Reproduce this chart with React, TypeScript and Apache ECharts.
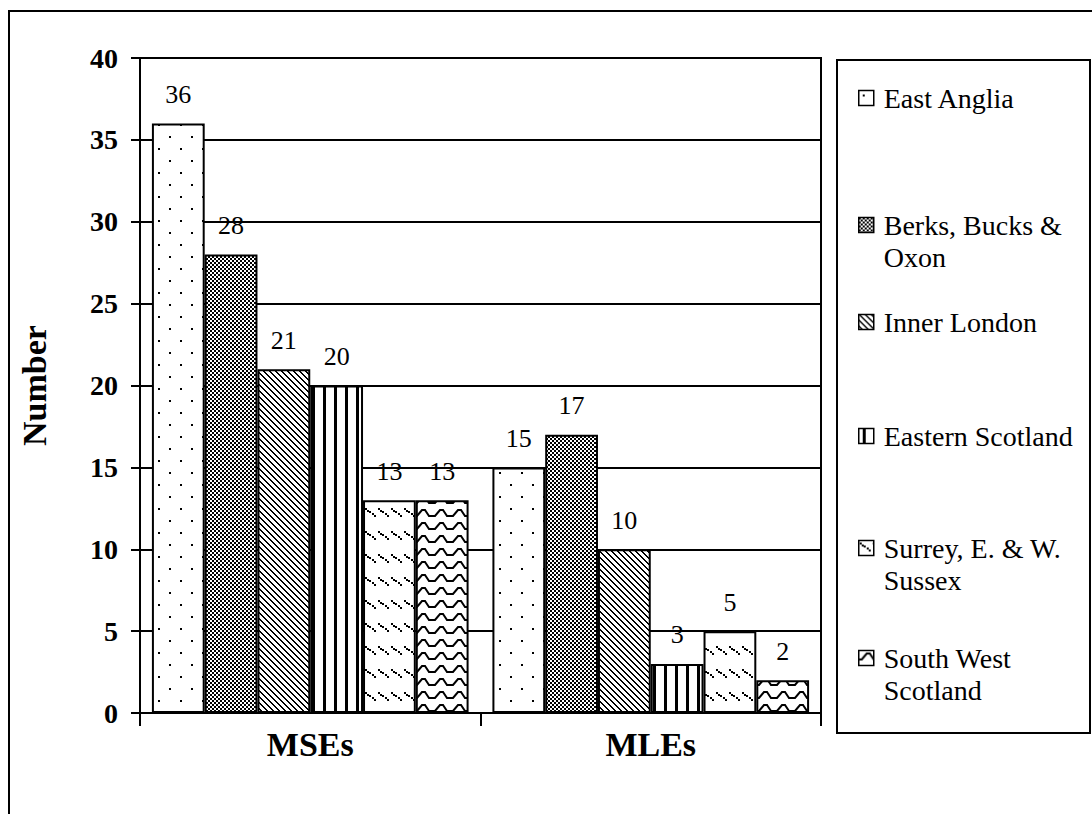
import React, { useEffect, useRef } from "react";
import * as echarts from "echarts";

// Categories along the x axis
const categories = ["MSEs", "MLEs"];

// Regions (one bar series each)
const regions = [
  "East Anglia",
  "Berks, Bucks & Oxon",
  "Inner London",
  "Eastern Scotland",
  "Surrey, E. & W. Sussex",
  "South West Scotland",
];

// Wrapped legend captions
const legendCaptions = [
  "East Anglia",
  "Berks, Bucks &\nOxon",
  "Inner London",
  "Eastern Scotland",
  "Surrey, E. & W.\nSussex",
  "South West\nScotland",
];

// Counts per category [MSEs, MLEs]
const eastAnglia = [36, 15];
const berksBucksOxon = [28, 17];
const innerLondon = [21, 10];
const easternScotland = [20, 3];
const surreySussex = [13, 5];
const southWestScotland = [13, 2];

const seriesValues = [
  eastAnglia,
  berksBucksOxon,
  innerLondon,
  easternScotland,
  surreySussex,
  southWestScotland,
];

// Y axis range
const yMin = 0;
const yMax = 40;
const yStep = 5;

const FONT = "Liberation Serif";

type Ctx = CanvasRenderingContext2D;

function tile(w: number, h: number, draw: (ctx: Ctx) => void) {
  const c = document.createElement("canvas");
  c.width = w;
  c.height = h;
  const ctx = c.getContext("2d") as Ctx;
  ctx.fillStyle = "#fff";
  ctx.fillRect(0, 0, w, h);
  ctx.fillStyle = "#000";
  ctx.strokeStyle = "#000";
  draw(ctx);
  return { image: c, repeat: "repeat", imageWidth: w, imageHeight: h };
}

function buildPatterns() {
  // sparse staggered dots
  const dots = tile(22, 24, (ctx) => {
    ctx.fillRect(4, 4, 2, 2);
    ctx.fillRect(15, 16, 2, 2);
  });
  // fine checkerboard
  const checker = tile(4, 4, (ctx) => {
    ctx.fillRect(0, 0, 2, 2);
    ctx.fillRect(2, 2, 2, 2);
  });
  // dense downward diagonals
  const diagonal = tile(6, 6, (ctx) => {
    for (let i = 0; i < 6; i++) {
      ctx.fillRect(i % 6, i, 1, 1);
      ctx.fillRect((i + 1) % 6, i, 1, 1);
    }
  });
  // bold vertical stripes
  const vertical = tile(11, 2, (ctx) => {
    ctx.fillRect(4, 0, 3, 2);
  });
  // rows of short dashed diagonals
  const dashed = tile(13, 23, (ctx) => {
    for (let j = 0; j < 5; j++) {
      ctx.fillRect(Math.round(1 + j * 2.2), Math.round(2 + j * 1.7), 2, 2);
    }
  });
  // zigzag waves
  const wave = tile(18, 13, (ctx) => {
    ctx.lineWidth = 2;
    ctx.beginPath();
    ctx.moveTo(-1, 9);
    ctx.lineTo(3, 9);
    ctx.lineTo(8, 3);
    ctx.lineTo(11, 3);
    ctx.lineTo(15, 9);
    ctx.lineTo(19, 9);
    ctx.stroke();
  });
  return [dots, checker, diagonal, vertical, dashed, wave];
}

// First-line vertical centres of the legend entries
const legendRowY = [98, 225, 322, 436, 548, 658];
const LH = 32;

export default function App() {
  const ref = useRef<HTMLDivElement>(null);

  useEffect(() => {
    if (!ref.current) return;
    const chart = echarts.init(ref.current, null, { renderer: "svg" });
    const patterns = buildPatterns();

    const series = regions.map((name, i) => ({
      name,
      type: "bar",
      data: seriesValues[i],
      barGap: "0%",
      barCategoryGap: "7%",
      itemStyle: {
        color: patterns[i],
        borderColor: "#000",
        borderWidth: 2,
      },
      label: {
        show: true,
        position: "top",
        distance: 16,
        fontFamily: FONT,
        fontSize: 26,
        color: "#000",
      },
      emphasis: { disabled: true },
    }));

    // One legend per entry so each can sit on its own row; wrapped captions get a
    // leading blank line so the marker lines up with the first line of text.
    const legends = regions.map((name, i) => {
      const twoLines = legendCaptions[i].includes("\n");
      const y = legendRowY[i];
      const caption = twoLines ? " \n" + legendCaptions[i] : legendCaptions[i];
      return {
        data: [name],
        orient: "vertical",
        left: 858,
        top: twoLines ? y - 1.5 * LH : y - LH / 2,
        padding: 0,
        itemWidth: 15,
        itemHeight: 15,
        itemGap: 0,
        icon: "rect",
        selectedMode: false,
        formatter: () => caption,
        itemStyle: { borderColor: "#000", borderWidth: 1.5 },
        textStyle: {
          fontFamily: FONT,
          fontSize: 28,
          color: "#000",
          lineHeight: LH,
          padding: [0, 0, 0, 5],
        },
      };
    });

    chart.setOption({
      animation: false,
      backgroundColor: "#fff",
      textStyle: { fontFamily: FONT },
      grid: {
        left: 140,
        right: 271,
        top: 58,
        bottom: 101,
        show: true,
        borderColor: "#000",
        borderWidth: 2,
        backgroundColor: "transparent",
      },
      legend: legends,
      xAxis: {
        type: "category",
        data: categories,
        axisLine: { show: true, lineStyle: { color: "#000", width: 2 } },
        axisTick: { show: true, length: 13, lineStyle: { color: "#000", width: 2 } },
        axisLabel: {
          margin: 14,
          fontFamily: FONT,
          fontSize: 34,
          fontWeight: "bold",
          color: "#000",
        },
      },
      yAxis: {
        type: "value",
        min: yMin,
        max: yMax,
        interval: yStep,
        name: "Number",
        nameLocation: "middle",
        nameGap: 89,
        nameTextStyle: {
          fontFamily: FONT,
          fontSize: 34,
          fontWeight: "bold",
          color: "#000",
        },
        axisLine: { show: true, lineStyle: { color: "#000", width: 2 } },
        axisTick: { show: true, length: 9, lineStyle: { color: "#000", width: 2 } },
        axisLabel: {
          margin: 22,
          fontFamily: FONT,
          fontSize: 28,
          fontWeight: "bold",
          color: "#000",
        },
        splitLine: { show: true, lineStyle: { color: "#000", width: 2 } },
      },
      graphic: [
        {
          type: "rect",
          silent: true,
          shape: { x: 9, y: 11, width: 1200, height: 1000 },
          style: { fill: "none", stroke: "#000", lineWidth: 2 },
        },
        {
          type: "rect",
          silent: true,
          shape: { x: 837, y: 60, width: 253, height: 673 },
          style: { fill: "none", stroke: "#000", lineWidth: 2 },
        },
      ],
      series,
    });

    return () => chart.dispose();
  }, []);

  return (
    <div
      ref={ref}
      style={{ position: "absolute", left: 0, top: 0, width: 1092, height: 814 }}
    />
  );
}
